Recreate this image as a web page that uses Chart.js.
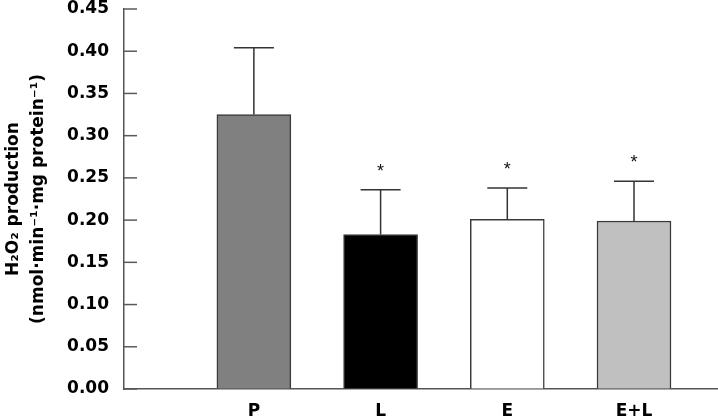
<!DOCTYPE html>
<html>
<head>
<meta charset="utf-8">
<script src="https://cdn.jsdelivr.net/npm/chart.js@4/dist/chart.umd.min.js"></script>
<style>
  html, body { margin: 0; padding: 0; background: #fff; }
  #wrap { width: 718px; height: 420px; }
</style>
</head>
<body>
<div id="wrap"><canvas id="c" width="718" height="420"></canvas></div>
<script>
const categories = ['P', 'L', 'E', 'E+L'];
const meanValues = [0.325, 0.183, 0.201, 0.199];
const errorValues = [0.079, 0.053, 0.037, 0.047];
const significant = [false, true, true, true];
const barColors = ['#808080', '#000000', '#ffffff', '#c0c0c0'];
const yTickValues = [0, 0.05, 0.10, 0.15, 0.20, 0.25, 0.30, 0.35, 0.40, 0.45];
const yTitleLines = ['H\u2082O\u2082 production', '(nmol\u00B7min\u207B\u00B9\u00B7mg protein\u207B\u00B9)'];

const barPoints = categories.map((c, i) => ({ x: i + 1, y: meanValues[i] }));

const FONT = 'DejaVu Sans';

const extrasPlugin = {
  id: 'extras',
  afterDatasetsDraw(chart) {
    const ctx = chart.ctx;
    const xs = chart.scales.x, ys = chart.scales.y;
    ctx.save();
    ctx.strokeStyle = '#333';
    ctx.lineWidth = 1.5;
    barPoints.forEach((p, i) => {
      const px = xs.getPixelForValue(p.x);
      const yBar = ys.getPixelForValue(meanValues[i]);
      const yTop = ys.getPixelForValue(meanValues[i] + errorValues[i]);
      ctx.beginPath();
      ctx.moveTo(px, yBar);
      ctx.lineTo(px, yTop);
      ctx.moveTo(px - 20, yTop);
      ctx.lineTo(px + 20, yTop);
      ctx.stroke();
      if (significant[i]) {
        ctx.fillStyle = '#111';
        ctx.font = '18px "Liberation Sans"';
        ctx.textAlign = 'center';
        ctx.textBaseline = 'alphabetic';
        ctx.fillText('*', px, yTop - 13);
      }
    });
    ctx.strokeStyle = '#5a5a5a';
    ctx.lineWidth = 1.5;
    const left = chart.chartArea.left;
    ys.ticks.forEach(t => {
      const py = ys.getPixelForValue(t.value);
      ctx.beginPath();
      ctx.moveTo(left, py);
      ctx.lineTo(left + 13, py);
      ctx.stroke();
    });
    ctx.restore();
  }
};

new Chart(document.getElementById('c'), {
  type: 'bar',
  data: {
    datasets: [{
      data: barPoints,
      backgroundColor: barColors,
      borderColor: '#3a3a3a',
      borderWidth: 1.5,
      borderSkipped: 'start',
      barThickness: 74
    }]
  },
  options: {
    responsive: false,
    animation: false,
    events: [],
    layout: { padding: { top: 0, right: 1, bottom: 0, left: 0 } },
    plugins: { legend: { display: false }, tooltip: { enabled: false } },
    scales: {
      x: {
        type: 'linear',
        offset: false,
        min: -0.025,
        max: 4.655,
        afterBuildTicks: s => { s.ticks = categories.map((c, i) => ({ value: i + 1 })); },
        afterFit: s => { s.height = 31; s.paddingLeft = 0; s.paddingRight = 0; },
        grid: { display: true, drawOnChartArea: false, drawTicks: false, offset: false },
        border: { display: true, color: '#555', width: 1.5 },
        ticks: {
          padding: 12,
          maxRotation: 0,
          color: '#000',
          font: { family: FONT, size: 17, weight: 'bold' },
          callback: (v) => categories[Math.round(v) - 1] || ''
        }
      },
      y: {
        min: 0,
        max: 0.45,
        afterBuildTicks: s => { s.ticks = yTickValues.map(v => ({ value: v })); },
        afterFit: s => { s.width = 124; s.paddingTop = 9; s.paddingBottom = 0; },
        grid: { display: true, drawOnChartArea: false, drawTicks: false },
        border: { display: true, color: '#555', width: 1.5 },
        ticks: {
          padding: 15,
          color: '#000',
          font: { family: FONT, size: 17, weight: 'bold' },
          callback: (v) => Number(v).toFixed(2)
        },
        title: {
          display: true,
          text: yTitleLines,
          color: '#000',
          padding: { top: 1.5, bottom: 10 },
          font: { family: FONT, size: 17, weight: 'bold', lineHeight: '25px' }
        }
      }
    }
  },
  plugins: [extrasPlugin]
});
</script>
</body>
</html>
